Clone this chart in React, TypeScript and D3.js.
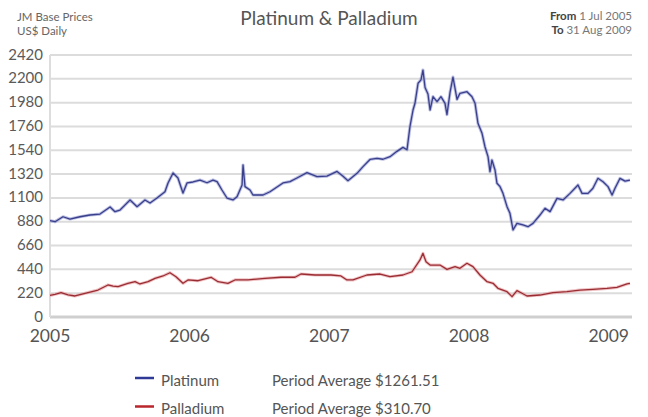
import React from "react";
import * as d3 from "d3";

// Time expressed as decimal years (1 Jul 2005 = 2005.5)
const platinumYears = [
  2005.5, 2005.536, 2005.593, 2005.643, 2005.715, 2005.786, 2005.858, 2005.93, 2005.965, 2006.001,
  2006.073, 2006.123, 2006.18, 2006.216, 2006.266, 2006.323, 2006.345, 2006.381, 2006.416, 2006.452,
  2006.481, 2006.524, 2006.574, 2006.624, 2006.667, 2006.696, 2006.731, 2006.767, 2006.81, 2006.839,
  2006.875, 2006.882, 2006.896, 2006.932, 2006.953, 2007.025, 2007.075, 2007.168, 2007.218, 2007.268,
  2007.34, 2007.412, 2007.483, 2007.555, 2007.598, 2007.633, 2007.698, 2007.741, 2007.791, 2007.841,
  2007.884, 2007.934, 2007.984, 2008.027, 2008.056, 2008.077, 2008.099, 2008.113, 2008.135, 2008.156,
  2008.17, 2008.185, 2008.206, 2008.221, 2008.242, 2008.271, 2008.299, 2008.328, 2008.342, 2008.364,
  2008.385, 2008.414, 2008.435, 2008.485, 2008.521, 2008.543, 2008.564, 2008.593, 2008.614, 2008.636,
  2008.65, 2008.664, 2008.686, 2008.7, 2008.722, 2008.743, 2008.772, 2008.793, 2008.815, 2008.843,
  2008.886, 2008.922, 2008.958, 2009.008, 2009.044, 2009.08, 2009.13, 2009.173, 2009.223, 2009.28,
  2009.309, 2009.352, 2009.387, 2009.423, 2009.459, 2009.495, 2009.524, 2009.545, 2009.581, 2009.617,
  2009.652,
];
const platinumValues = [
  890, 880, 926, 905, 926, 942, 951, 1016, 973, 988,
  1081, 1019, 1081, 1053, 1099, 1157, 1238, 1330, 1284, 1145,
  1238, 1247, 1265, 1240, 1265, 1250, 1173, 1099, 1081, 1111,
  1219, 1404, 1204, 1173, 1127, 1127, 1157, 1238, 1250, 1284,
  1333, 1296, 1302, 1345, 1300, 1259, 1327, 1389, 1455, 1466,
  1457, 1481, 1530, 1567, 1545, 1758, 1912, 1974, 2159, 2190,
  2281, 2120, 2060, 1912, 2035, 1989, 2035, 1974, 1870, 2075,
  2215, 2010, 2066, 2081, 2035, 1974, 1789, 1697, 1573, 1481,
  1342, 1450, 1358, 1235, 1204, 1142, 1019, 958, 804, 865,
  850, 834, 865, 942, 1004, 973, 1096, 1081, 1142, 1219,
  1142, 1142, 1189, 1281, 1250, 1204, 1127, 1189, 1281, 1255,
  1265,
];

const palladiumYears = [
  2005.5, 2005.536, 2005.579, 2005.629, 2005.679, 2005.751, 2005.844, 2005.915, 2005.951, 2005.987,
  2006.058, 2006.109, 2006.144, 2006.202, 2006.252, 2006.309, 2006.359, 2006.402, 2006.452, 2006.488,
  2006.56, 2006.653, 2006.703, 2006.774, 2006.824, 2006.917, 2007.039, 2007.154, 2007.254, 2007.297,
  2007.397, 2007.512, 2007.583, 2007.626, 2007.669, 2007.769, 2007.863, 2007.934, 2008.027, 2008.092,
  2008.149, 2008.17, 2008.192, 2008.221, 2008.292, 2008.342, 2008.4, 2008.435, 2008.485, 2008.528,
  2008.578, 2008.629, 2008.672, 2008.707, 2008.772, 2008.808, 2008.843, 2008.879, 2008.915, 2009.008,
  2009.101, 2009.201, 2009.294, 2009.387, 2009.488, 2009.559, 2009.631, 2009.652,
];
const palladiumValues = [
  200, 210, 225, 205, 194, 219, 249, 296, 285, 280,
  311, 326, 305, 326, 357, 379, 409, 372, 311, 342,
  335, 367, 326, 311, 342, 342, 357, 367, 367, 397,
  388, 388, 379, 342, 342, 388, 397, 372, 388, 418,
  527, 588, 511, 480, 480, 440, 465, 450, 496, 465,
  388, 326, 311, 265, 234, 188, 243, 219, 194, 203,
  225, 234, 249, 256, 265, 274, 305, 311,
];

const yTicks = [0, 220, 440, 660, 880, 1100, 1320, 1540, 1760, 1980, 2200, 2420];
const xTickYears = [2005.5, 2006.5, 2007.5, 2008.5, 2009.5];
const xTickLabels = ["2005", "2006", "2007", "2008", "2009"];

const seriesNames = ["Platinum", "Palladium"];
const periodAverages = ["$1261.51", "$310.70"];
const seriesColors = ["#2f3a97", "#b9262c"];
const lineCores = ["#3a3f8c", "#9a2d33"];
const lineHalos = ["#8e95cf", "#e49a9c"];

export default function App() {
  const W = 648;
  const H = 417;
  const left = 50;
  const right = 632;
  const top = 55;
  const bottom = 317;
  const font = "Lato, 'Open Sans', sans-serif";

  const x = d3.scaleLinear().domain([2005.5, 2009.6667]).range([left, right]);
  const y = d3.scaleLinear().domain([0, 2420]).range([bottom, top]);

  const line = d3
    .line<[number, number]>()
    .x((d) => x(d[0]))
    .y((d) => y(d[1]));

  const series = [
    d3.zip(platinumYears, platinumValues) as [number, number][],
    d3.zip(palladiumYears, palladiumValues) as [number, number][],
  ];

  return (
    <svg
      width={W}
      height={H}
      style={{ position: "absolute", left: 0, top: 0, background: "#fff" }}
      fontFamily={font}
    >
      {/* header */}
      <text x={17} y={21} fontSize={11.5} fill="#666">JM Base Prices</text>
      <text x={17} y={35} fontSize={11.5} fill="#666">US$ Daily</text>
      <text x={329} y={25} fontSize={19} fill="#555" textAnchor="middle">
        Platinum &amp; Palladium
      </text>
      <text x={632} y={20} fontSize={11.5} fill="#777" textAnchor="end">
        <tspan fill="#444" fontWeight={700}>From</tspan> 1 Jul 2005
      </text>
      <text x={632} y={34} fontSize={11.5} fill="#777" textAnchor="end">
        <tspan fill="#444" fontWeight={700}>To</tspan> 31 Aug 2009
      </text>

      {/* grid */}
      {yTicks.map((t) => (
        <line
          key={t}
          x1={left}
          x2={right}
          y1={y(t)}
          y2={y(t)}
          stroke={t === 0 ? "#cfcfcf" : "#dcdcdc"}
          strokeWidth={t === 0 ? 3 : 2}
        />
      ))}
      <line x1={left} x2={left} y1={top} y2={bottom} stroke="#dddddd" strokeWidth={2} />

      {/* y labels */}
      {yTicks.map((t) => (
        <text key={t} x={43} y={y(t) + 4.5} fontSize={15} fill="#5a5a5a" textAnchor="end">
          {t}
        </text>
      ))}

      {/* x labels */}
      {xTickYears.map((t, i) => (
        <text key={t} x={x(t)} y={342} fontSize={17.5} fill="#555" textAnchor="middle">
          {xTickLabels[i]}
        </text>
      ))}

      {/* lines */}
      {series.map((s, i) => (
        <g key={i}>
          <path d={line(s) || ""} fill="none" stroke={lineHalos[i]} strokeWidth={3.2} strokeOpacity={0.6} strokeLinejoin="round" />
          <path d={line(s) || ""} fill="none" stroke={lineCores[i]} strokeWidth={1.3} strokeLinejoin="round" />
        </g>
      ))}

      {/* legend */}
      {seriesNames.map((n, i) => (
        <g key={n}>
          <line x1={135} x2={154} y1={378 + i * 28.5} y2={378 + i * 28.5} stroke={seriesColors[i]} strokeWidth={2.5} />
          <text x={161} y={386 + i * 28} fontSize={15} fill="#555">{n}</text>
          <text x={272} y={386 + i * 28} fontSize={15} fill="#555">
            Period Average {periodAverages[i]}
          </text>
        </g>
      ))}
    </svg>
  );
}
